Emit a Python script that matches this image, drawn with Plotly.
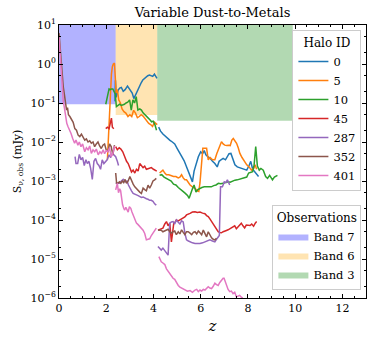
import plotly.graph_objects as go

# --- data ---
halo_ids = ["0", "5", "10", "45", "287", "352", "401"]
halo_colors = ["#1f77b4", "#ff7f0e", "#2ca02c", "#d62728", "#9467bd", "#8c564b", "#e377c2"]

# halo 0
h0_z1 = [2.37, 2.39, 2.42, 2.50, 2.57, 2.64, 2.72, 2.80, 2.90, 3.00, 3.10, 3.17, 3.25, 3.33, 3.41, 3.48, 3.55,
         3.62, 3.69, 3.76, 3.83, 3.90, 3.97, 4.04, 4.10, 4.15]
h0_s1 = [0.11, 0.38, 0.14, 0.21, 0.24, 0.25, 0.20, 0.22, 0.27, 0.22, 0.18, 0.13, 0.17, 0.22, 0.29, 0.33, 0.39,
         0.43, 0.47, 0.50, 0.52, 0.50, 0.48, 0.55, 0.47, 0.43]
h0_z2 = [4.22, 4.30, 4.40, 4.50, 4.60, 4.70, 4.80, 4.90, 5.00, 5.10, 5.20, 5.30, 5.40, 5.50, 5.57, 5.65, 5.72,
         5.80, 5.90, 6.00, 6.08, 6.15, 6.22, 6.30, 6.40, 6.50, 6.60, 6.70, 6.78, 6.86, 6.95, 7.05, 7.12, 7.20,
         7.28, 7.36, 7.45, 7.55, 7.65, 7.75, 7.85, 7.95, 8.05, 8.12, 8.20, 8.28, 8.36, 8.45]
h0_s2 = [2.4e-2, 1.9e-2, 1.6e-2, 1.4e-2, 1.3e-2, 1.1e-2, 1.0e-2, 8.9e-3, 6.9e-3, 5.6e-3, 4.2e-3, 3.3e-3, 2.3e-3,
         1.8e-3, 1.4e-3, 9.5e-4, 1.8e-3, 2.8e-3, 4.2e-3, 5.6e-3, 5.0e-3, 6.0e-3, 4.7e-3, 4.2e-3, 3.8e-3, 3.2e-3,
         2.8e-3, 2.3e-3, 3.2e-3, 3.5e-3, 3.8e-3, 3.5e-3, 4.2e-3, 5.0e-3, 5.1e-3, 3.5e-3, 2.6e-3, 2.3e-3, 2.2e-3,
         2.1e-3, 2.0e-3, 1.9e-3, 2.5e-3, 3.2e-3, 2.0e-3, 1.7e-3, 1.5e-3, 1.3e-3]

# halo 5
h5_z1 = [2.05, 2.08, 2.11, 2.14, 2.18, 2.22, 2.26, 2.30, 2.35, 2.38, 2.42, 2.47, 2.53, 2.60, 2.67, 2.75, 2.83,
         2.92, 3.00, 3.08, 3.16, 3.24, 3.32, 3.40, 3.48, 3.56, 3.64, 3.72, 3.80, 3.88, 3.96, 4.04, 4.10, 4.16]
h5_s1 = [3.5e-3, 9e-3, 3.5e-2, 0.12, 0.26, 0.55, 0.85, 1.0, 1.05, 0.40, 0.18, 0.22, 0.12, 0.10, 7.0e-2, 6.0e-2,
         5.5e-2, 4.5e-2, 5.0e-2, 4.5e-2, 6.5e-2, 5.5e-2, 4.2e-2, 4.5e-2, 5.0e-2, 4.6e-2, 4.0e-2, 3.4e-2, 3.0e-2,
         2.8e-2, 2.5e-2, 3.2e-2, 3.0e-2, 2.8e-2]
h5_z2 = [4.26, 4.33, 4.40, 4.48, 4.55, 4.65, 4.75, 4.85, 4.95, 5.05, 5.12, 5.19, 5.26, 5.33, 5.40, 5.48, 5.55,
         5.65, 5.76, 5.85, 5.92, 5.97, 6.03, 6.09, 6.17, 6.25, 6.32, 6.40, 6.50, 6.60, 6.68, 6.74, 6.81, 6.88,
         6.95, 7.02, 7.10, 7.18, 7.25, 7.32, 7.38, 7.45, 7.52, 7.59, 7.66, 7.75, 7.85, 7.95, 8.05, 8.15, 8.24,
         8.30, 8.37]
h5_s2 = [1.6e-3, 1.8e-3, 1.9e-3, 1.6e-3, 1.45e-3, 1.45e-3, 1.35e-3, 1.3e-3, 1.3e-3, 1.2e-3, 1.25e-3, 1.45e-3,
         1.2e-3, 1.07e-3, 1.07e-3, 8.9e-4, 7.9e-4, 7.1e-4, 6.5e-4, 5.6e-4, 5.4e-4, 8.9e-4, 2.5e-3, 6.9e-3, 6.9e-3,
         6.9e-3, 3.5e-3, 4.0e-3, 3.5e-3, 3.5e-3, 5.0e-3, 6.2e-3, 8.9e-3, 1.02e-2, 8.9e-3, 8.3e-3, 8.1e-3, 8.3e-3,
         8.1e-3, 1.12e-2, 1.23e-2, 1.07e-2, 9.3e-3, 7.1e-3, 5.1e-3, 4.0e-3, 3.2e-3, 2.6e-3, 2.3e-3, 1.9e-3,
         2.1e-3, 2.6e-3, 2.0e-3]

# halo 10
h10_z1 = [1.98, 2.03, 2.07, 2.12, 2.17, 2.22, 2.28, 2.33, 2.38, 2.43, 2.50, 2.57, 2.64, 2.70, 2.77, 2.84, 2.91,
          2.99, 3.06, 3.13, 3.20, 3.27, 3.34, 3.42, 3.49, 3.56, 3.64, 3.71, 3.78, 3.85, 3.92, 3.99, 4.06, 4.13]
h10_s1 = [9.3e-2, 0.126, 0.195, 0.23, 0.22, 0.23, 0.23, 0.20, 0.17, 8.1e-2, 8.9e-2, 9.3e-2, 8.7e-2, 8.9e-2,
          9.3e-2, 0.10, 0.105, 0.12, 6.6e-2, 0.12, 0.10, 0.145, 6.6e-2, 7.1e-2, 6.6e-2, 5.6e-2, 4.9e-2, 4.5e-2,
          4.1e-2, 3.7e-2, 3.3e-2, 3.4e-2, 2.8e-2, 2.0e-2]
h10_z2 = [4.26, 4.35, 4.45, 4.55, 4.65, 4.75, 4.85, 4.95, 5.05, 5.15, 5.25, 5.35, 5.45, 5.51, 5.58, 5.65, 5.72,
          5.80, 5.88, 5.96, 6.05, 6.15, 6.25, 6.35, 6.45, 6.55, 6.65, 6.75, 6.85, 6.95, 7.05, 7.15, 7.25, 7.35,
          7.45, 7.55, 7.65, 7.75, 7.85, 7.95, 8.03, 8.12, 8.20, 8.26, 8.33, 8.40, 8.48, 8.55, 8.65, 8.75, 8.83,
          8.92, 9.04, 9.12, 9.25]
h10_s2 = [1.4e-3, 1.45e-3, 1.26e-3, 1.17e-3, 1.07e-3, 1.0e-3, 8.3e-4, 7.9e-4, 6.8e-4, 5.9e-4, 5.4e-4, 4.8e-4,
          4.2e-4, 3.6e-4, 5.0e-4, 6.3e-4, 7.9e-4, 5.2e-4, 6.0e-4, 6.5e-4, 6.8e-4, 7.1e-4, 7.1e-4, 7.2e-4, 7.1e-4,
          7.6e-4, 7.9e-4, 8.7e-4, 8.5e-4, 8.7e-4, 9.1e-4, 9.5e-4, 9.3e-4, 1.0e-3, 1.05e-3, 1.07e-3, 1.12e-3,
          1.17e-3, 1.2e-3, 1.26e-3, 1.6e-3, 1.66e-3, 1.74e-3, 2.5e-3, 7.6e-3, 2.4e-3, 1.9e-3, 2.1e-3, 1.9e-3,
          1.3e-3, 1.17e-3, 1.4e-3, 1.07e-3, 1.26e-3, 1.4e-3]

# halo 45
h45_z1 = [1.98, 2.05, 2.12, 2.18, 2.22, 2.26, 2.32]
h45_s1 = [2.2e-2, 2.4e-2, 2.2e-2, 3.5e-2, 4.1e-2, 2.4e-2, 2.2e-2]
h45_z2 = [2.40, 2.47, 2.55, 2.62, 2.70, 2.78, 2.86, 2.93, 3.00, 3.07, 3.14, 3.21, 3.28, 3.35, 3.42, 3.49, 3.56,
          3.63, 3.70, 3.80, 3.91, 4.00, 4.08, 4.14]
h45_s2 = [7.6e-3, 6.3e-3, 7.1e-3, 6.6e-3, 5.6e-3, 4.2e-3, 3.2e-3, 2.8e-3, 2.2e-3, 1.7e-3, 1.9e-3, 1.6e-3, 2.0e-3,
          1.8e-3, 2.8e-3, 2.4e-3, 2.2e-3, 2.4e-3, 2.0e-3, 2.1e-3, 2.2e-3, 2.0e-3, 1.9e-3, 1.8e-3]
h45_z3 = [4.19, 4.30, 4.40, 4.48, 4.55, 4.62, 4.69, 4.76, 4.82, 4.86, 4.92, 4.97, 5.05, 5.12, 5.19, 5.26, 5.33,
          5.40, 5.48, 5.55, 5.65, 5.76, 5.86, 5.97, 6.08, 6.18, 6.25, 6.32, 6.39, 6.46, 6.53, 6.60, 6.67, 6.74,
          6.81, 6.88, 6.95, 7.02, 7.09, 7.16, 7.23, 7.30, 7.37, 7.44, 7.51, 7.58, 7.65, 7.72, 7.79, 7.86, 7.93,
          8.00, 8.09, 8.16, 8.24, 8.31, 8.37]
h45_s3 = [5.5e-5, 5.9e-5, 6.2e-5, 7.9e-5, 9.1e-5, 7.1e-5, 8.3e-5, 2.75e-5, 6.3e-5, 8.3e-5, 8.9e-5, 1.0e-4, 9.5e-5,
          1.0e-4, 1.05e-4, 1.12e-4, 1.2e-4, 1.35e-4, 1.4e-4, 1.48e-4, 1.6e-4, 1.62e-4, 1.55e-4, 1.6e-4, 1.5e-4,
          1.45e-4, 1.3e-4, 1.23e-4, 1.07e-4, 9.1e-5, 7.9e-5, 6.8e-5, 5.8e-5, 5.0e-5, 4.8e-5, 4.7e-5, 5.0e-5,
          5.1e-5, 5.4e-5, 5.6e-5, 6.0e-5, 6.2e-5, 6.6e-5, 7.1e-5, 6.0e-5, 6.6e-5, 7.6e-5, 8.3e-5, 7.1e-5, 6.3e-5,
          7.4e-5, 7.4e-5, 7.2e-5, 7.9e-5, 6.9e-5, 8.3e-5, 9.1e-5]

# halo 287
h287_z1 = [0.68, 0.72, 0.79, 0.86, 0.93, 1.00, 1.07, 1.14, 1.20, 1.27, 1.34, 1.41, 1.48, 1.55, 1.62, 1.69, 1.76,
           1.83, 1.90, 1.97, 2.04, 2.12, 2.19, 2.26, 2.33, 2.40, 2.47, 2.52]
h287_s1 = [4.2e-3, 2.8e-3, 2.8e-3, 4.8e-3, 3.5e-3, 4.0e-3, 2.5e-3, 3.5e-3, 2.8e-3, 3.2e-3, 2.1e-3, 1.1e-3, 3.2e-3,
           3.8e-3, 2.8e-3, 2.5e-3, 2.0e-3, 3.5e-3, 2.8e-3, 3.2e-3, 3.5e-3, 4.7e-3, 4.0e-3, 5.1e-3, 4.5e-3, 4.2e-3,
           3.2e-3, 2.5e-3]
h287_z2 = [2.40, 2.48, 2.57, 2.64, 2.72, 2.80, 2.88, 2.94, 3.00, 3.07, 3.14, 3.21, 3.28, 3.35, 3.42, 3.49, 3.56,
           3.63, 3.70, 3.77, 3.84, 3.91, 3.98, 4.05, 4.12]
h287_s2 = [8.7e-4, 8.7e-4, 8.7e-4, 1.0e-3, 1.1e-3, 9.5e-4, 1.0e-3, 7.9e-4, 6.5e-4, 5.6e-4, 4.8e-4, 4.5e-4, 4.4e-4,
           4.2e-4, 4.0e-4, 3.8e-4, 3.9e-4, 3.6e-4, 3.5e-4, 3.4e-4, 3.2e-4, 3.2e-4, 3.0e-4, 2.6e-4, 2.4e-4]
h287_z3 = [4.19, 4.26, 4.33, 4.40, 4.48, 4.55, 4.62, 4.66, 4.69, 4.76, 4.83, 4.90, 4.97, 5.05, 5.12, 5.19, 5.26,
           5.33, 5.40, 5.48, 5.55, 5.65, 5.76, 5.86, 5.97, 6.08, 6.18, 6.28, 6.39, 6.50, 6.60, 6.67, 6.74, 6.79,
           6.84, 6.92, 7.00, 7.07, 7.13, 7.18, 7.23]
h287_s3 = [2.1e-5, 1.9e-5, 1.7e-5, 1.9e-5, 1.6e-5, 1.4e-5, 1.26e-5, 4.0e-5, 8.3e-5, 8.9e-5, 9.1e-5, 7.9e-5, 1.0e-4,
           8.7e-5, 7.9e-5, 9.5e-5, 8.9e-5, 4.6e-5, 3.1e-5, 2.9e-5, 2.75e-5, 2.6e-5, 2.5e-5, 2.45e-5, 2.5e-5,
           2.6e-5, 2.75e-5, 2.9e-5, 3.1e-5, 2.9e-5, 2.75e-5, 3.2e-5, 3.7e-5, 4.0e-5, 7.1e-4, 7.1e-4, 9.5e-4,
           9.1e-4, 1.07e-3, 9.5e-4, 7.9e-4]

# halo 352
h352_z1 = [0.00, 0.03, 0.06, 0.09, 0.12, 0.15, 0.18, 0.22, 0.25, 0.29, 0.32, 0.36, 0.40, 0.46, 0.53, 0.60, 0.67,
           0.74, 0.81, 0.88, 0.95, 1.02, 1.09, 1.16, 1.23, 1.30, 1.37, 1.44, 1.51, 1.58, 1.65, 1.72, 1.79, 1.86,
           1.93, 2.00, 2.07, 2.14, 2.21, 2.28, 2.35]
h352_s1 = [6.2, 3.5, 2.0, 1.1, 0.71, 0.45, 0.26, 0.18, 0.12, 8.9e-2, 6.6e-2, 7.6e-2, 5.0e-2, 4.5e-2, 3.6e-2,
           3.2e-2, 2.2e-2, 2.0e-2, 1.5e-2, 1.38e-2, 1.58e-2, 1.26e-2, 1.12e-2, 1.2e-2, 1.0e-2, 1.07e-2, 9.3e-3,
           1.0e-2, 7.6e-3, 8.9e-3, 1.0e-2, 7.9e-3, 6.8e-3, 8.3e-3, 8.9e-3, 6.3e-3, 5.6e-3, 8.9e-3, 7.6e-3,
           4.7e-3, 8.3e-3]
h352_z2 = [2.40, 2.44, 2.50, 2.56, 2.62, 2.68, 2.74, 2.80, 2.86, 2.93, 3.00, 3.07, 3.14, 3.21, 3.28, 3.35, 3.42,
           3.49, 3.56, 3.63, 3.70, 3.77, 3.84, 3.91, 3.98, 4.05, 4.12]
h352_s2 = [1.6e-3, 8.7e-4, 8.9e-4, 9.5e-4, 8.7e-4, 1.0e-3, 9.1e-4, 1.1e-3, 8.7e-4, 1.0e-3, 1.3e-3, 1.0e-3, 8.3e-4,
           7.1e-4, 6.3e-4, 5.9e-4, 5.2e-4, 4.8e-4, 6.6e-4, 6.0e-4, 5.6e-4, 7.8e-4, 6.6e-4, 7.9e-4, 1.0e-3,
           1.07e-3, 1.17e-3]
h352_z3 = [4.19, 4.26, 4.33, 4.40, 4.48, 4.55, 4.62, 4.69, 4.76, 4.83, 4.90, 4.97, 5.05, 5.12, 5.19, 5.26, 5.33,
           5.40, 5.47, 5.55, 5.62, 5.69, 5.76, 5.83, 5.90, 5.97, 6.04, 6.11, 6.18, 6.25, 6.32, 6.39, 6.46, 6.53,
           6.60, 6.67]
h352_s3 = [5.5e-5, 5.6e-5, 5.5e-5, 5.0e-5, 5.2e-5, 5.5e-5, 5.8e-5, 5.0e-5, 4.6e-5, 5.0e-5, 5.2e-5, 4.2e-5, 5.0e-5,
           4.4e-5, 5.6e-5, 4.8e-5, 4.2e-5, 5.0e-5, 5.0e-5, 4.6e-5, 4.2e-5, 4.8e-5, 5.0e-5, 4.4e-5, 5.2e-5, 4.7e-5,
           4.2e-5, 5.5e-5, 4.4e-5, 3.7e-5, 5.0e-5, 4.0e-5, 3.5e-5, 3.2e-5, 3.1e-5, 3.4e-5]

# halo 401
h401_z1 = [0.00, 0.03, 0.06, 0.08, 0.11, 0.15, 0.18, 0.22, 0.25, 0.29, 0.33, 0.38, 0.44, 0.51, 0.58, 0.66, 0.72,
           0.80, 0.86, 0.93, 1.00, 1.09, 1.16, 1.23, 1.30, 1.37, 1.44, 1.51, 1.58, 1.66, 1.73, 1.80, 1.87, 1.93,
           2.00, 2.07, 2.14, 2.21, 2.28, 2.35]
h401_s1 = [5.0, 2.5, 1.26, 0.71, 0.32, 0.145, 0.112, 8.1e-2, 5.6e-2, 3.6e-2, 3.0e-2, 2.5e-2, 2.1e-2, 1.66e-2,
           1.23e-2, 9.3e-3, 1.12e-2, 8.3e-3, 1.0e-2, 7.6e-3, 8.9e-3, 5.6e-3, 7.1e-3, 6.3e-3, 7.9e-3, 5.1e-3,
           6.3e-3, 5.6e-3, 6.6e-3, 4.7e-3, 5.6e-3, 5.1e-3, 6.3e-3, 5.0e-3, 6.0e-3, 5.6e-3, 7.1e-3, 4.2e-3,
           5.0e-3, 7.9e-3]
h401_z2 = [2.40, 2.44, 2.47, 2.52, 2.57, 2.61, 2.65, 2.69, 2.74, 2.78, 2.83, 2.88, 2.93, 2.98, 3.04, 3.09, 3.14,
           3.21, 3.28, 3.35, 3.42, 3.49, 3.56, 3.63, 3.70, 3.77, 3.84, 3.91, 3.98, 4.05, 4.12]
h401_s2 = [5.9e-4, 7.9e-4, 8.7e-4, 5.0e-4, 6.3e-4, 5.6e-4, 3.0e-4, 2.5e-4, 2.0e-4, 1.8e-4, 2.1e-4, 1.9e-4, 1.6e-4,
           2.2e-4, 2.0e-4, 1.6e-4, 1.35e-4, 1.05e-4, 8.3e-5, 7.6e-5, 6.8e-5, 6.3e-5, 5.5e-5, 4.5e-5, 3.1e-5,
           3.2e-5, 3.3e-5, 4.0e-5, 4.6e-5, 5.5e-5, 6.2e-5]
h401_z3 = [4.23, 4.28, 4.33, 4.40, 4.48, 4.55, 4.62, 4.69, 4.76, 4.83, 4.90, 4.97, 5.05, 5.12, 5.19, 5.26, 5.33,
           5.44, 5.55, 5.65, 5.76, 5.83, 5.90, 5.97, 6.04, 6.11, 6.18, 6.25, 6.32, 6.39, 6.46, 6.53, 6.60, 6.67,
           6.74, 6.81, 6.88, 6.95, 6.99, 7.04, 7.09, 7.16, 7.23, 7.30, 7.37, 7.44, 7.51, 7.58, 7.65, 7.72, 7.78]
h401_s3 = [1.15e-5, 1.0e-5, 8.5e-6, 7.9e-6, 7.2e-6, 5.6e-6, 4.8e-6, 4.2e-6, 3.5e-6, 3.2e-6, 3.0e-6, 2.5e-6,
           2.1e-6, 1.9e-6, 1.8e-6, 1.66e-6, 1.6e-6, 1.5e-6, 1.55e-6, 1.4e-6, 1.6e-6, 1.66e-6, 1.45e-6, 1.6e-6,
           1.5e-6, 1.66e-6, 1.6e-6, 1.74e-6, 1.95e-6, 1.8e-6, 1.74e-6, 2.0e-6, 2.4e-6, 2.2e-6, 2.1e-6, 2.5e-6,
           2.9e-6, 3.2e-6, 3.2e-6, 2.6e-6, 2.1e-6, 1.66e-6, 1.45e-6, 1.5e-6, 1.3e-6, 1.4e-6, 1.07e-6, 1.12e-6,
           1.17e-6, 1.05e-6, 1.0e-6]

halo_segments = [
    [(h0_z1, h0_s1), (h0_z2, h0_s2)],
    [(h5_z1, h5_s1), (h5_z2, h5_s2)],
    [(h10_z1, h10_s1), (h10_z2, h10_s2)],
    [(h45_z1, h45_s1), (h45_z2, h45_s2), (h45_z3, h45_s3)],
    [(h287_z1, h287_s1), (h287_z2, h287_s2), (h287_z3, h287_s3)],
    [(h352_z1, h352_s1), (h352_z2, h352_s2), (h352_z3, h352_s3)],
    [(h401_z1, h401_s1), (h401_z2, h401_s2), (h401_z3, h401_s3)],
]

# ALMA band detection regions: z range and flux limit (mJy)
band_names = ["Band 7", "Band 6", "Band 3"]
band_z_min = [0.0, 2.4, 4.16]
band_z_max = [2.4, 4.16, 9.9]
band_flux_limit = [0.093, 0.049, 0.035]
band_colors = ["rgba(0,0,255,0.3)", "rgba(255,165,0,0.3)", "rgba(0,128,0,0.3)"]

# y tick labels
y_tick_vals = [1e-6, 1e-5, 1e-4, 1e-3, 1e-2, 1e-1, 1e0, 1e1]
y_tick_text = ["10<sup>−6</sup>", "10<sup>−5</sup>", "10<sup>−4</sup>", "10<sup>−3</sup>",
               "10<sup>−2</sup>", "10<sup>−1</sup>", "10<sup>0</sup>", "10<sup>1</sup>"]

S_TOP = 10.0  # upper edge of y axis

FONT = "DejaVu Serif"

fig = go.Figure()

# --- observation bands (legend2) ---
for name, z0, z1, lim, col in zip(band_names, band_z_min, band_z_max, band_flux_limit, band_colors):
    fig.add_trace(
        go.Scatter(
            x=[z0, z1, z1, z0, z0], y=[lim, lim, S_TOP, S_TOP, lim],
            mode="lines", fill="toself", fillcolor=col,
            line={"width": 0, "color": col},
            name=name, legend="legend2", hoverinfo="skip",
        )
    )

# --- halo curves (segments separated by gaps) ---
for hid, col, segs in zip(halo_ids, halo_colors, halo_segments):
    xs, ys = [], []
    for z, s in segs:
        xs += list(z) + [None]
        ys += list(s) + [None]
    fig.add_trace(
        go.Scatter(
            x=xs, y=ys, mode="lines", name=hid,
            line={"color": col, "width": 1.5},
            connectgaps=False, legend="legend",
        )
    )

axis_common = dict(
    showline=True, linecolor="black", linewidth=1, mirror="allticks",
    ticks="inside", ticklen=4, tickcolor="black", showgrid=False, zeroline=False,
    automargin=False,
    tickfont={"family": FONT, "size": 11, "color": "black"},
)

fig.update_xaxes(
    range=[0, 13], dtick=2, tick0=0,
    minor={"ticks": "inside", "ticklen": 2, "dtick": 0.5, "tickcolor": "black"},
    title={"text": "<i>z</i>", "font": {"family": FONT, "size": 15, "color": "black"}, "standoff": 6},
    **axis_common,
)
fig.update_yaxes(
    type="log", range=[-6, 1], tickvals=y_tick_vals, ticktext=y_tick_text,
    minor={"ticks": "inside", "ticklen": 2, "tickcolor": "black"},
    title={"text": "S<sub>ν, obs</sub> (mJy)", "font": {"family": FONT, "size": 11, "color": "black"},
           "standoff": 6},
    **axis_common,
)

legend_style = {
    "xanchor": "right", "bgcolor": "white", "bordercolor": "#cccccc", "borderwidth": 1,
    "font": {"family": FONT, "size": 11.5}, "itemwidth": 30,
}

fig.update_layout(
    width=374, height=339,
    margin={"l": 59, "r": 8, "t": 25, "b": 41},
    paper_bgcolor="white", plot_bgcolor="white",
    font={"family": FONT, "size": 12, "color": "black"},
    title={"text": "Variable Dust-to-Metals", "x": 0.5, "xref": "paper", "xanchor": "center",
           "y": 0.963, "yref": "container", "yanchor": "middle",
           "font": {"family": FONT, "size": 13, "color": "black"}},
    legend={**legend_style, "x": 0.985, "y": 0.98, "yanchor": "top", "tracegroupgap": 0,
            "title": {"text": "Halo ID", "side": "top center", "font": {"family": FONT, "size": 12}}},
    legend2={**legend_style, "x": 0.985, "y": 0.028, "yanchor": "bottom",
             "title": {"text": "Observations", "side": "top center", "font": {"family": FONT, "size": 12}}},
    showlegend=True,
)

# drop the browser's default page margin so the figure sits at the window's top-left
fig.write_html("out.html", config={"displayModeBar": False},
               post_script="document.body.style.margin = '0';")
